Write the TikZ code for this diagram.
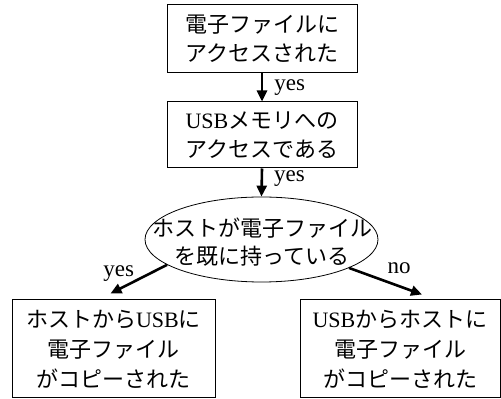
\documentclass[tikz,border=0pt]{standalone}
\usepackage{fontspec}
\setmainfont{Liberation Serif}
\newfontfamily\jp{Noto Sans CJK JP}
\usetikzlibrary{shapes.geometric,arrows.meta}
\tikzset{
  boxnode/.style={draw, line width=1pt, inner sep=0pt, align=center,
    font=\jp\fontsize{22}{29}\selectfont},
  lowbox/.style={boxnode, font=\jp\fontsize{22}{30}\selectfont},
  flowarrow/.style={line width=2.6pt, -{Triangle[length=11pt,width=10pt]}},
  lbl/.style={inner sep=0pt, font=\fontsize{23}{23}\selectfont}
}
\begin{document}
\begin{tikzpicture}[x=1pt,y=1pt]
\useasboundingbox (0,0) rectangle (501,399);
\node[boxnode, minimum width=190pt, minimum height=68pt] (b1) at (262,360)
  {電子ファイルに\\アクセスされた};
\node[boxnode, minimum width=190pt, minimum height=66pt] (b2) at (262,264)
  {{\rmfamily USB}メモリへの\\アクセスである};
\node[draw, ellipse, line width=0.8pt, minimum width=233pt, minimum height=85pt, inner sep=0pt] (ell) at (261.5,159.5) {};
\node[inner sep=0pt, align=center, font=\jp\fontsize{22}{28}\selectfont] (elltxt) at (262,157)
  {ホストが電子ファイル\\を既に持っている};
\node[lowbox, minimum width=203pt, minimum height=98pt] (lb) at (113.5,50)
  {ホストから{\rmfamily USB}に\\電子ファイル\\がコピーされた};
\node[lowbox, minimum width=200pt, minimum height=98pt] (rb) at (400,50)
  {{\rmfamily USB}からホストに\\電子ファイル\\がコピーされた};
\coordinate (lt) at ([shift={(-3pt,6pt)}]lb.north);
\coordinate (rt) at ([shift={(22pt,5pt)}]rb.north);
\draw[flowarrow] (b1.south) -- (b2.north) node[lbl, midway, anchor=west, xshift=11pt] {yes};
\draw[flowarrow] (b2.south) -- (ell.north) node[lbl, midway, anchor=west, xshift=11pt, yshift=4pt] {yes};
\draw[flowarrow] (ell.195) -- (lt) node[lbl, pos=0.35, anchor=south east, xshift=-12pt, yshift=-8pt] {yes};
\draw[flowarrow] (ell.342) -- (rt) node[lbl, pos=0.4, anchor=south west, xshift=8pt, yshift=4pt] {no};
\end{tikzpicture}
\end{document}
